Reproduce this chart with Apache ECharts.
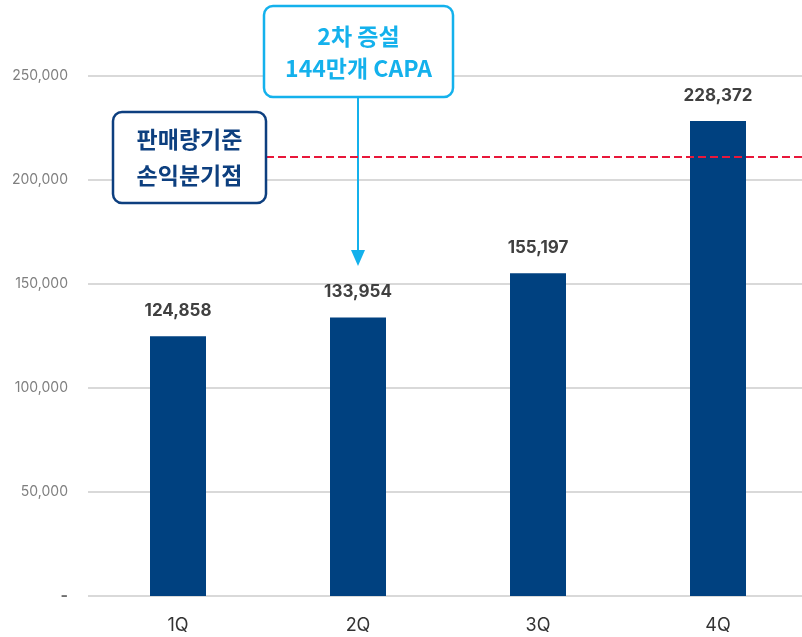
<!DOCTYPE html>
<html>
<head>
<meta charset="utf-8">
<script src="https://cdn.jsdelivr.net/npm/echarts@6/dist/echarts.min.js"></script>
<style>
  html, body { margin: 0; padding: 0; background: #fff; overflow: hidden; }
  #main { width: 808px; height: 637px; }
</style>
</head>
<body>
<div id="main"></div>
<script>
// 분기별 판매량
const quarters = ['1Q', '2Q', '3Q', '4Q'];
const sales = [124858, 133954, 155197, 228372];
const breakEven = 211000;       // 판매량기준 손익분기점
const arrowFrom = 240000;       // 2차 증설 화살표 시작/끝 값
const arrowTo = 162500;
const yTicks = [0, 50000, 100000, 150000, 200000, 250000];

const numFont = 'Inter, "Noto Sans CJK KR", sans-serif';
const krFont = '"Noto Sans CJK KR", Inter, sans-serif';

const chart = echarts.init(document.getElementById('main'));

chart.setOption({
    animation: false,
    grid: { left: 88, right: 0, top: 76, bottom: 41, containLabel: false },
    xAxis: {
        type: 'category',
        data: quarters,
        axisTick: { show: false },
        axisLine: { show: false },
        axisLabel: {
            margin: 21,
            color: '#333',
            fontSize: 18,
            fontFamily: numFont
        }
    },
    yAxis: {
        type: 'value',
        min: yTicks[0],
        max: yTicks[yTicks.length - 1],
        interval: 50000,
        axisLine: { show: false },
        axisTick: { show: false },
        splitLine: { lineStyle: { color: '#d9d9d9', width: 2 } },
        axisLabel: {
            margin: 20,
            color: '#7f7f7f',
            fontSize: 14,
            fontFamily: numFont,
            formatter: function (v) {
                return v === 0 ? '{z|-}' : v.toLocaleString('en-US');
            },
            rich: {
                z: { fontSize: 16, fontWeight: 'bold', color: '#6f6f6f', fontFamily: numFont }
            }
        }
    },
    series: [{
        type: 'bar',
        data: sales,
        barWidth: 56,
        itemStyle: { color: '#004180' },
        label: {
            show: true,
            position: 'top',
            distance: 17,
            color: '#404040',
            fontSize: 17,
            fontWeight: 'bold',
            fontFamily: numFont,
            formatter: function (p) { return p.value.toLocaleString('en-US'); }
        },
        markLine: {
            silent: true,
            symbol: ['none', 'triangle'],
            symbolSize: [14, 16],
            label: { show: false },
            lineStyle: { color: '#14b1ec', width: 2, type: 'solid' },
            data: [[
                { coord: ['2Q', arrowFrom] },
                { coord: ['2Q', arrowTo] }
            ]]
        }
    }]
});

// 손익분기점 점선 + 박스
const yBE = chart.convertToPixel({ yAxisIndex: 0 }, breakEven);

chart.setOption({
    graphic: [
        {
            type: 'line',
            z: 10,
            shape: { x1: 266, y1: yBE, x2: 808, y2: yBE },
            style: { stroke: '#e8173a', lineWidth: 2, lineDash: [8, 4] }
        },
        {
            type: 'rect',
            z: 11,
            shape: { x: 113, y: 112, width: 153, height: 91, r: 9 },
            style: { fill: '#fff', stroke: '#0d3f7f', lineWidth: 2.5 }
        },
        {
            type: 'text',
            z: 12,
            x: 189.5, y: 157,
            style: {
                text: '판매량기준\n손익분기점',
                align: 'center',
                verticalAlign: 'middle',
                fill: '#0d3f7f',
                font: 'bold 23px ' + krFont,
                lineHeight: 36
            }
        },
        {
            type: 'rect',
            z: 11,
            shape: { x: 264, y: 6, width: 189, height: 91, r: 9 },
            style: { fill: '#fff', stroke: '#14b1ec', lineWidth: 2.5 }
        },
        {
            type: 'text',
            z: 12,
            x: 358.5, y: 52,
            style: {
                text: '2차 증설\n144만개 CAPA',
                align: 'center',
                verticalAlign: 'middle',
                fill: '#14b1ec',
                font: 'bold 23px ' + krFont,
                lineHeight: 32
            }
        }
    ]
});
</script>
</body>
</html>
